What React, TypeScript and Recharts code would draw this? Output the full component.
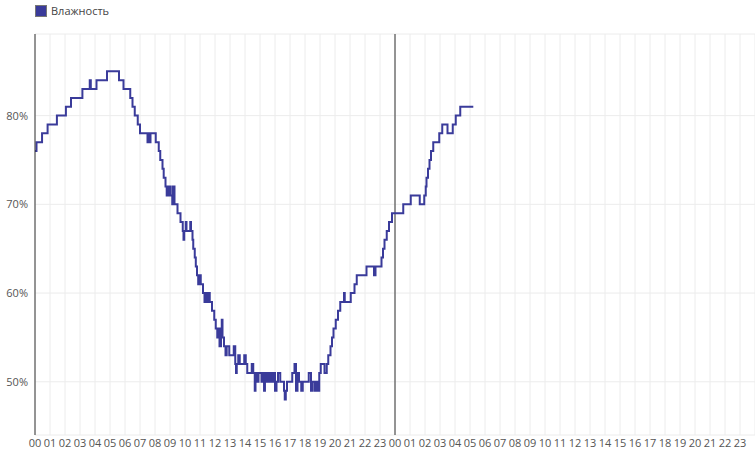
import { LineChart, Line, XAxis, YAxis, CartesianGrid, ReferenceLine } from "recharts"

// hours since midnight of day 1, and relative humidity (%)
const hours = [
  0, 0.1, 0.47, 0.84, 1.46, 2.06, 2.4, 3.16, 3.65, 3.72, 4.1, 4.8, 5.6, 5.9, 6.35, 6.5, 6.65, 6.85,
  7.0, 7.5, 7.55, 7.65, 7.7, 8.05, 8.25, 8.35, 8.5, 8.58, 8.7, 8.78, 8.83, 8.9, 8.95, 9.05, 9.15, 9.2,
  9.3, 9.5, 9.7, 9.85, 9.9, 9.95, 10.05, 10.1, 10.35, 10.4, 10.5, 10.55, 10.65, 10.72, 10.8, 10.88,
  10.92, 11.05, 11.2, 11.3, 11.35, 11.45, 11.55, 11.65, 11.8, 11.95, 12.05, 12.15, 12.2, 12.3, 12.4,
  12.45, 12.5, 12.6, 12.7, 12.78, 12.95, 13.15, 13.25, 13.35, 13.4, 13.45, 13.55, 13.65, 13.95, 14.05,
  14.15, 14.45, 14.55, 14.65, 14.7, 14.8, 14.9, 15.1, 15.2, 15.27, 15.33, 15.45, 15.55, 15.65, 15.75,
  15.85, 15.9, 16.0, 16.1, 16.2, 16.35, 16.6, 16.65, 16.72, 16.8, 17.15, 17.3, 17.4, 17.5, 17.6, 17.75,
  17.85, 18.25, 18.4, 18.5, 18.65, 18.75, 18.85, 18.95, 19.05, 19.3, 19.45, 19.55, 19.7, 19.8, 19.9,
  20.05, 20.2, 20.35, 20.6, 20.65, 21.05, 21.3, 21.45, 22.1, 22.6, 22.7, 23.1, 23.2, 23.3, 23.45, 23.6,
  23.8, 24.55, 25.05, 25.65, 25.95, 26.05, 26.1, 26.2, 26.3, 26.4, 26.55, 26.95, 27.15, 27.5, 27.85,
  28.05, 28.35, 29.22,
]
const humidity = [
  76, 77, 78, 79, 80, 81, 82, 83, 84, 83, 84, 85, 84, 83, 82, 81, 80, 79,
  78, 77, 78, 77, 78, 77, 76, 75, 74, 73, 72, 71, 72, 71, 72, 71, 70, 72,
  70, 69, 68, 67, 66, 67, 68, 67, 68, 67, 66, 65, 64, 63, 62, 61,
  62, 61, 60, 59, 60, 59, 60, 59, 58, 57, 56, 55, 56, 54, 56,
  57, 55, 54, 53, 54, 53, 53, 54, 52, 51, 52, 53, 52, 53, 52,
  51, 52, 51, 49, 51, 50, 51, 50, 51, 49, 51, 50, 51, 50, 51,
  50, 51, 49, 50, 51, 50, 49, 48, 49, 50, 51, 52, 49, 51, 50, 49,
  50, 51, 49, 50, 49, 50, 49, 51, 52, 51, 52, 53, 54, 55, 56,
  57, 58, 59, 60, 59, 60, 61, 62, 63, 62, 63, 64, 65, 66, 67, 68,
  69, 70, 71, 70, 71, 72, 73, 74, 75, 76, 77, 78, 79, 78, 79,
  80, 81, 81,
]

const hourTicks = Array.from({ length: 48 }, (_, i) => i)
const percentTicks = [50, 60, 70, 80]

const data = hours.map((h, i) => ({ hour: h, value: humidity[i] }))

const LINE_COLOR = "#3a3b9a"
const FONT = "'Open Sans', sans-serif"

export default function App() {
  return (
    <div style={{ position: "absolute", left: 0, top: 0, width: 755, height: 451 }}>
      <div
        style={{
          position: "absolute",
          left: 35,
          top: 4,
          display: "flex",
          alignItems: "center",
          fontFamily: FONT,
          fontSize: 11,
          color: "#444",
          lineHeight: "14px",
        }}
      >
        <span style={{ width: 10, height: 10, background: LINE_COLOR, border: "1px solid #777", marginRight: 4, display: "inline-block" }} />
        Влажность
      </div>
      <LineChart width={755} height={451} data={data} margin={{ top: 34, right: 0, bottom: 0, left: 0 }}>
        <CartesianGrid stroke="#ececec" strokeWidth={1} />
        <XAxis
          dataKey="hour"
          type="number"
          domain={[0, 48]}
          ticks={hourTicks}
          interval={0}
          allowDataOverflow
          axisLine={false}
          tickLine={false}
          tickSize={0}
          tickMargin={4}
          height={16}
          tick={{ fill: "#555", fontSize: 11, fontFamily: FONT }}
          tickFormatter={(h: number) => String(h % 24).padStart(2, "0")}
        />
        <YAxis
          type="number"
          domain={[44, 89.2]}
          ticks={percentTicks}
          allowDataOverflow
          width={35}
          axisLine={{ stroke: "#333" }}
          tickLine={false}
          tickSize={5}
          tickMargin={2}
          tick={{ fill: "#555", fontSize: 11, fontFamily: FONT }}
          tickFormatter={(v: number) => `${v}%`}
        />
        <ReferenceLine x={24} stroke="#333" />
        <Line
          type="stepAfter"
          dataKey="value"
          stroke={LINE_COLOR}
          strokeWidth={2}
          dot={false}
          isAnimationActive={false}
        />
      </LineChart>
    </div>
  )
}
